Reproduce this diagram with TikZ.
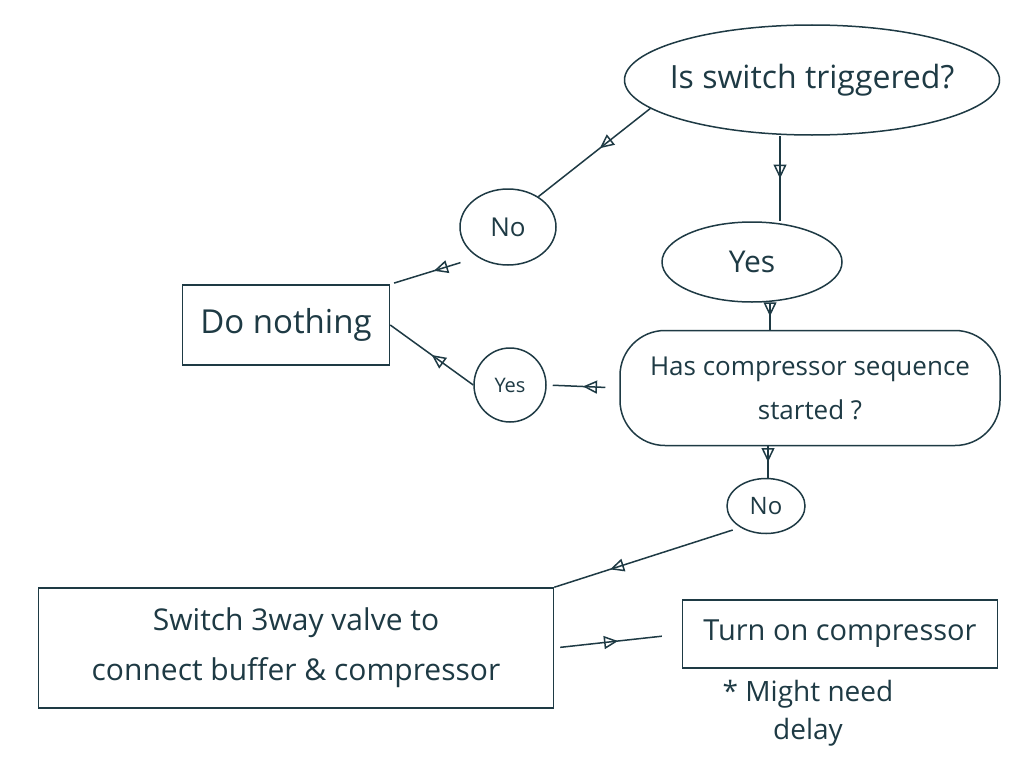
\documentclass[tikz,border=0pt]{standalone}
\usepackage{fontspec}
\setmainfont{Open Sans}
\usetikzlibrary{shapes.geometric,arrows.meta,decorations.markings}
\definecolor{ink}{HTML}{1E3A44}
\begin{document}
\begin{tikzpicture}[x=1pt,y=-1pt,
  every node/.style={text=ink, inner sep=0pt, align=center},
  ell/.style={draw=ink, line width=1.5pt, ellipse},
  box/.style={draw=ink, line width=1.5pt, rectangle},
  blob/.style={draw=ink, line width=1.5pt, rectangle, rounded corners=45pt},
  flow/.style={draw=ink, line width=1.5pt, postaction={decorate},
    decoration={markings, mark=at position #1 with {\arrow{Triangle[open, length=14pt, width=13pt, line width=1.5pt]}}}},
  flow/.default=0.5,
]
\useasboundingbox (0,0) rectangle (1024,768);
\fill[white] (0,0) rectangle (1024,768);

% nodes
\node[ell, minimum width=375, minimum height=110, inner xsep=-20pt, font=\fontsize{32}{38}\selectfont] (q1) at (812,80) {Is switch triggered?};
\node[ell, minimum width=96, minimum height=76, font=\fontsize{26}{30}\selectfont] (no1) at (508,227) {No};
\node[ell, minimum width=180, minimum height=80, font=\fontsize{30}{34}\selectfont] (yes1) at (752,262) {Yes};
\node[box, minimum width=207, minimum height=80, font=\fontsize{33}{38}\selectfont] (do) at (286,325) {Do nothing};
\node[ell, minimum width=72, minimum height=74, font=\fontsize{20}{24}\selectfont] (yes2) at (510,385) {Yes};
\node[blob, minimum width=380, minimum height=115, font=\fontsize{26}{44}\selectfont] (q2) at (810,388) {Has compressor sequence\\ started ?};
\node[ell, minimum width=78, minimum height=55, font=\fontsize{24}{28}\selectfont] (no2) at (766,506) {No};
\node[box, minimum width=515, minimum height=120, font=\fontsize{30}{50}\selectfont] (sw) at (296,648) {Switch 3way valve to\\ connect buffer \& compressor};
\node[box, minimum width=315, minimum height=68, font=\fontsize{29}{34}\selectfont] (turn) at (840,634) {Turn on compressor};
\node[anchor=north, font=\fontsize{28}{38}\selectfont] (note) at (808,680) {* Might need\\ delay};

% connectors
\draw[flow=0.45] (q1.190) -- (no1.45);
\draw[flow] ([xshift=-32pt]q1.south) -- ([xshift=28pt]yes1.north);
\draw[flow] ([xshift=18pt]yes1.south) -- ([xshift=-40pt]q2.north);
\draw[flow, shorten <=14pt, shorten >=6pt] (q2.west) -- (yes2.east);
\draw[flow] (yes2.west) -- (do.east);
\draw[flow, shorten <=18pt, shorten >=4pt] (no1.225) -- (do.north east);
\draw[flow] ([xshift=-42pt]q2.south) -- ([xshift=2pt]no2.north);
\draw[flow=0.7, shorten <=8pt] (no2.220) -- (sw.north east);
\draw[flow, shorten <=6pt, shorten >=20pt] (sw.east) -- (turn.west);
\end{tikzpicture}
\end{document}
